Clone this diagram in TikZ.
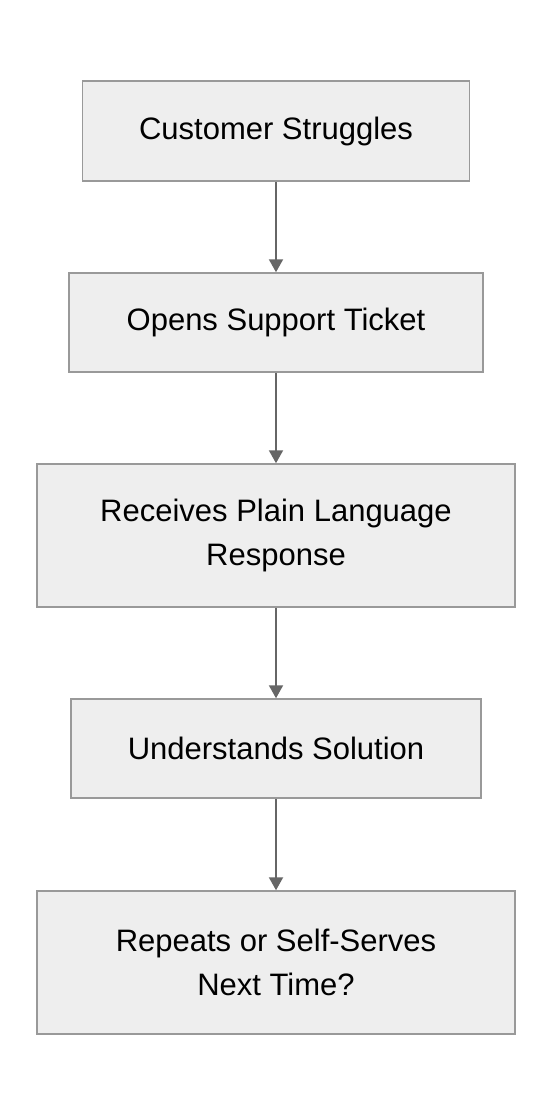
\documentclass[tikz,border=0pt]{standalone}
\usepackage{fontspec}
\setmainfont{Liberation Sans}
\usetikzlibrary{arrows.meta}
\definecolor{boxfill}{HTML}{EEEEEE}
\definecolor{boxline}{HTML}{999999}
\definecolor{arrowc}{HTML}{666666}
\begin{document}
\begin{tikzpicture}[x=1pt,y=-1pt,
  stepbox/.style={draw=boxline, line width=1.5pt, fill=boxfill, rectangle, inner sep=0pt,
    align=center, font=\fontsize{31}{44}\selectfont},
  flow/.style={draw=arrowc, line width=2pt, -{Triangle[length=13pt,width=14pt]}}]
\useasboundingbox (0,0) rectangle (552,1116);
\node[stepbox, minimum width=387pt, minimum height=100pt] (a) at (276,131) {Customer Struggles};
\node[stepbox, minimum width=414pt, minimum height=99pt] (b) at (276,322.5) {Opens Support Ticket};
\node[stepbox, minimum width=478pt, minimum height=143pt] (c) at (276,535.5) {Receives Plain Language\\Response};
\node[stepbox, minimum width=410pt, minimum height=99pt] (d) at (276,748.5) {Understands Solution};
\node[stepbox, minimum width=478pt, minimum height=143pt] (e) at (276,962.5) {Repeats or Self-Serves\\Next Time?};
\draw[flow] (a) -- (b);
\draw[flow] (b) -- (c);
\draw[flow] (c) -- (d);
\draw[flow] (d) -- (e);
\end{tikzpicture}
\end{document}
